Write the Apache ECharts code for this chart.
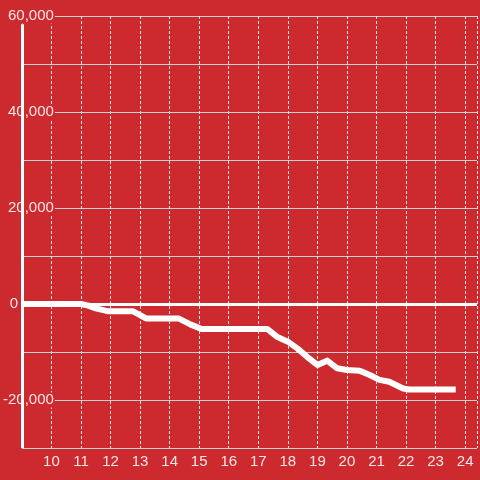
<!DOCTYPE html>
<html>
<head>
<meta charset="utf-8">
<script src="https://cdn.jsdelivr.net/npm/echarts@6/dist/echarts.min.js"></script>
<style>
html,body{margin:0;padding:0;background:#cc2a2f;}
#chart{width:480px;height:480px;}
</style>
</head>
<body>
<div id="chart"></div>
<script>
// Data
var hours = [9, 11.0, 11.25, 11.5, 11.9, 12.75, 13.0, 13.2, 14.3, 14.7, 15.08, 17.3, 17.65, 18.0, 18.33, 18.67, 19.0, 19.33, 19.67, 20.0, 20.43, 20.77, 21.1, 21.43, 21.9, 22.1, 23.68];
var values = [0, 0, -350, -900, -1500, -1500, -2300, -3000, -3000, -4240, -5200, -5200, -6900, -7850, -9300, -11100, -12700, -11800, -13400, -13750, -13900, -14800, -15800, -16200, -17600, -17800, -17800];
var yLabelValues = [-20000, 0, 20000, 40000, 60000];

var BG = '#cc2a2f';
var TEXT = 'rgba(255,255,255,0.88)';
var FONT = 'Liberation Sans, Arial, sans-serif';

var chart = echarts.init(document.getElementById('chart'));
var option = {
  backgroundColor: BG,
  animation: false,
  grid: { left: 20, right: -2, top: 16, bottom: 32 },
  xAxis: {
    type: 'value',
    min: 9,
    max: 24.4,
    interval: 1,
    axisLine: { show: false },
    axisTick: { show: false },
    axisLabel: {
      color: TEXT,
      fontSize: 15,
      fontFamily: FONT,
      margin: 6,
      formatter: function (v) { return (Number.isInteger(v) && v > 9) ? String(v) : ''; }
    },
    splitLine: { show: true, lineStyle: { color: '#e4e4e4', width: 1, type: [3, 2] } }
  },
  yAxis: {
    type: 'value',
    min: -30000,
    max: 60000,
    interval: 10000,
    axisLine: { show: false },
    axisTick: { show: false },
    axisLabel: {
      align: 'right',
      margin: -33,
      fontSize: 15,
      fontFamily: FONT,
      color: TEXT,
      formatter: function (v) {
        if (yLabelValues.indexOf(v) < 0) return '';
        if (v === 0) return '{z|0}';
        return '{a|' + v.toLocaleString('en-US') + '}';
      },
      rich: {
        a: { color: TEXT, fontSize: 15, fontFamily: FONT, backgroundColor: BG, padding: [0, 1, 0, 0] },
        z: { color: TEXT, fontSize: 15, fontFamily: FONT, width: 45, align: 'left' }
      }
    },
    splitLine: { show: true, lineStyle: { color: '#cfcfcf', width: 1 } }
  },
  series: [{
    type: 'line',
    data: hours.map(function (h, i) { return [h, values[i]]; }),
    showSymbol: false,
    symbol: 'none',
    lineStyle: { color: '#ffffff', width: 6, cap: 'butt', join: 'round' },
    z: 5,
    markLine: {
      silent: true,
      symbol: 'none',
      label: { show: false },
      lineStyle: { color: '#ffffff', width: 3, type: 'solid' },
      data: [
        { yAxis: 0 },
        [{ coord: [9, -30000] }, { coord: [9, 58300] }]
      ]
    }
  }]
};
chart.setOption(option);
</script>
</body>
</html>
